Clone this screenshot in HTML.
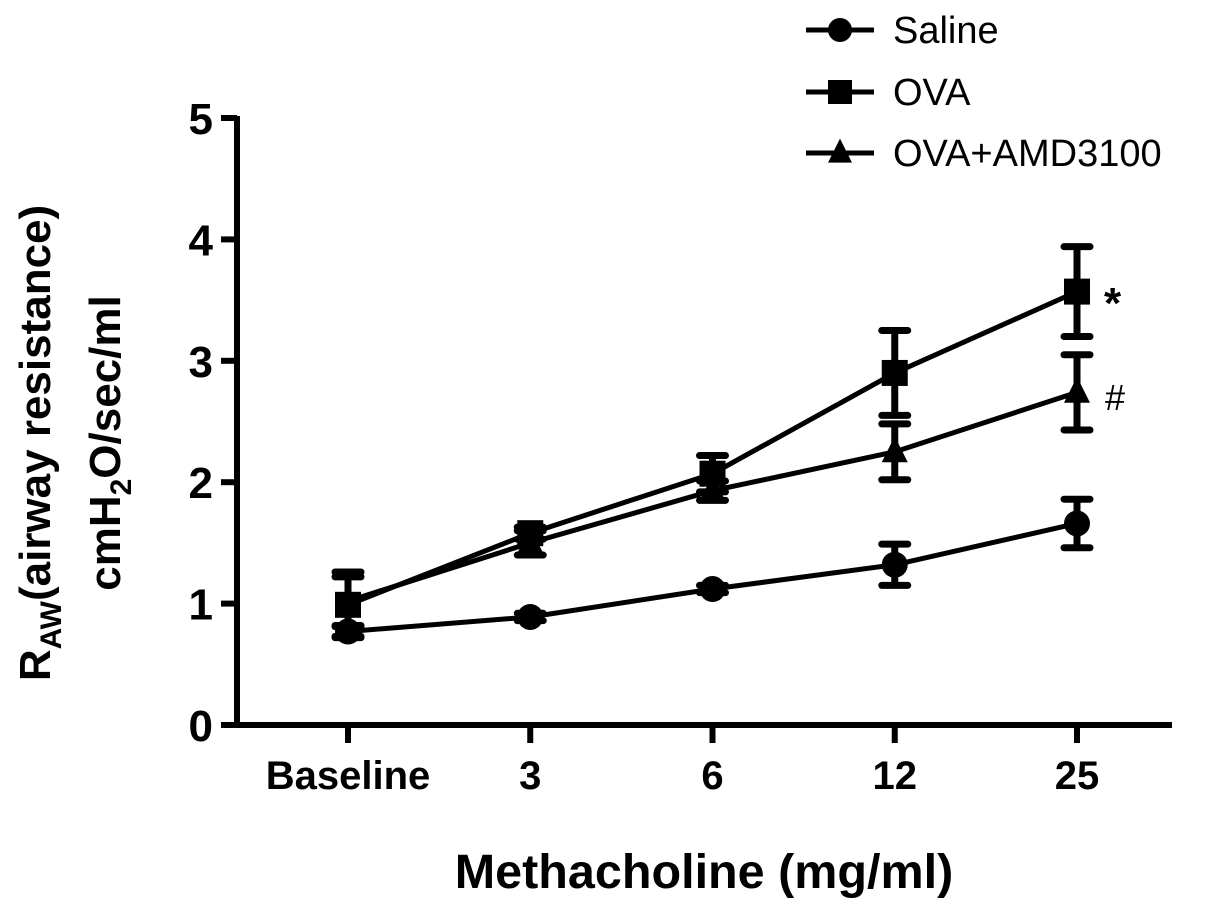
<!DOCTYPE html>
<html><head><meta charset="utf-8"><style>
html,body{margin:0;padding:0;background:#fff;}
svg{display:block;font-family:"Liberation Sans",Arial,sans-serif;}
</style></head><body>
<svg id="chart" width="1205" height="918" viewBox="0 0 1205 918">
<g id="axes"></g>
<g id="series"></g>
<g id="legend"></g>
<text x="1104" y="318" font-size="44" font-weight="bold">*</text>
<text x="1105" y="410" font-size="36">#</text>
<text x="704" y="888" text-anchor="middle" font-size="48.5" font-weight="bold">Methacholine (mg/ml)</text>
<g transform="translate(50,443) rotate(-90)">
<text x="0" y="0" text-anchor="middle" font-size="44" font-weight="bold">R<tspan font-size="30" dy="11">AW</tspan><tspan dy="-11">(airway resistance)</tspan></text>
<text x="0" y="70" text-anchor="middle" font-size="44" font-weight="bold">cmH<tspan font-size="30" dy="11">2</tspan><tspan dy="-11">O/sec/ml</tspan></text>
</g>
</svg>
<script>
const categories=["Baseline","3","6","12","25"];
const yTicks=[0,1,2,3,4,5];
const salineMean=[0.77,0.89,1.12,1.32,1.66];
const salineErr=[0.04,0.03,0.03,0.17,0.2];
const ovaMean=[0.99,1.58,2.07,2.9,3.57];
const ovaErr=[0.27,0.05,0.15,0.35,0.37];
const amdMean=[1.02,1.5,1.93,2.25,2.74];
const amdErr=[0.2,0.1,0.08,0.23,0.31];
const NS="http://www.w3.org/2000/svg";
const x0=348,dx=182.25;
function xs(i){return x0+i*dx;}
function ys(v){return 725-v*121.4;}
function mk(tag,attrs,parent){const e=document.createElementNS(NS,tag);for(const k in attrs)e.setAttribute(k,attrs[k]);parent.appendChild(e);return e;}
const axes=document.getElementById('axes');
let a=mk('line',{x1:237,y1:116,x2:237,y2:727,stroke:'#000','stroke-width':6},axes);


a=mk('line',{x1:234,y1:725,x2:1172,y2:725,stroke:'#000','stroke-width':6},axes);


yTicks.forEach(v=>{
 const t=mk('line',{x1:221,y1:ys(v),x2:237,y2:ys(v),stroke:'#000','stroke-width':6},axes);
 
 
 const l=mk('text',{x:213,y:ys(v)+16,'text-anchor':'end','font-size':44,'font-weight':'bold'},axes);
 l.textContent=v;
 
 
});
categories.forEach((c,i)=>{
 const t=mk('line',{x1:xs(i),y1:725,x2:xs(i),y2:743,stroke:'#000','stroke-width':6},axes);
 
 
 const l=mk('text',{x:xs(i),y:789,'text-anchor':'middle','font-size':40,'font-weight':'bold'},axes);
 l.textContent=c;
 
 
});
function marker(shape,cx,cy,p,s){
 let e;
 if(shape==='circle')e=mk('circle',{cx:cx,cy:cy,r:s},p);
 else if(shape==='square')e=mk('rect',{x:cx-s,y:cy-s,width:2*s,height:2*s},p);
 else e=mk('polygon',{points:`${cx},${cy-s*1.2} ${cx-s},${cy+s*0.8} ${cx+s},${cy+s*0.8}`},p);
 e.setAttribute('fill','#000');
 return e;
}
const sg=document.getElementById('series');
function drawSeries(name,mean,err,shape,s){
 const g=mk('g',{},sg);
 
 
 const pl=mk('polyline',{points:mean.map((v,i)=>xs(i)+','+ys(v)).join(' '),fill:'none',stroke:'#000','stroke-width':5},g);
 
 
 mean.forEach((v,i)=>{
  const cx=xs(i),t=ys(v+err[i]),b=ys(v-err[i]);
  const eb=mk('path',{d:`M${cx},${t}V${b}M${cx-13},${t}H${cx+13}M${cx-13},${b}H${cx+13}`,stroke:'#000','stroke-width':7,'stroke-linecap':'round',fill:'none'},g);
  
  
  const m=marker(shape,cx,ys(v),g,13);
  
  
 });
}
drawSeries('saline',salineMean,salineErr,'circle',13);
drawSeries('ova',ovaMean,ovaErr,'square',13);
drawSeries('ova-amd3100',amdMean,amdErr,'triangle',13);
const lg=document.getElementById('legend');
[['Saline','circle',30],['OVA','square',92],['OVA+AMD3100','triangle',153]].forEach(([n,sh,y])=>{
 const g=mk('g',{},lg);
 
 
 mk('line',{x1:806,y1:y,x2:874,y2:y,stroke:'#000','stroke-width':5},g);
 marker(sh,840,y,g,12);
 const t=mk('text',{x:893,y:y+13,'font-size':38},g);
 t.textContent=n;
});
</script>
</body></html>
